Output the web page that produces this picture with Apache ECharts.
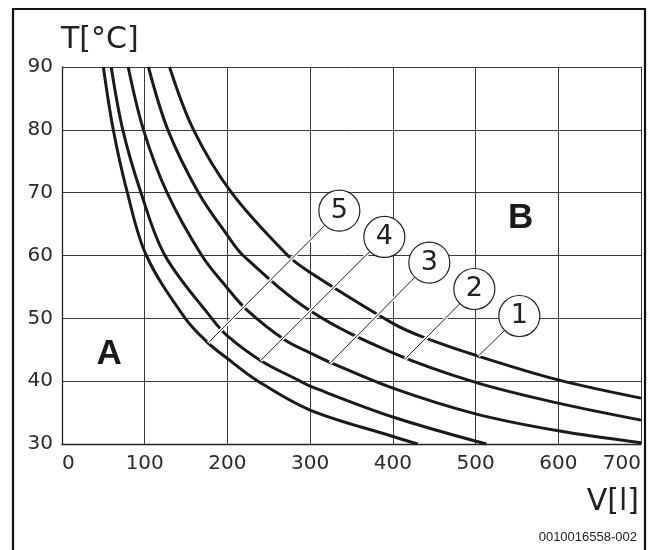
<!DOCTYPE html>
<html><head><meta charset="utf-8">
<script src="https://cdn.jsdelivr.net/npm/echarts@6/dist/echarts.min.js"></script>
<style>html,body{margin:0;padding:0;background:#fff}#c{width:655px;height:550px}</style>
</head><body><div id="c"></div>
<script>
// ---- data ----
const xTickLabels = [0, 100, 200, 300, 400, 500, 600, 700];
const yTickLabels = [30, 40, 50, 60, 70, 80, 90];

const curve1V = [130, 159, 205, 273, 300, 400, 435, 503, 600, 700];
const curve1T = [90, 80, 70, 60, 57.3, 49.2, 47.1, 44.0, 40.2, 37.3];
const curve2V = [104.5, 128, 165, 200, 219, 300, 400, 500, 600, 700];
const curve2T = [90, 80, 70, 63.2, 60, 51.2, 44.5, 39.8, 36.5, 33.8];
const curve3V = [80, 98.5, 127, 169, 200, 223, 269, 300, 324, 400, 500, 600, 700];
const curve3T = [90, 80, 70, 60, 54.8, 51.4, 46.6, 44.5, 43.0, 38.9, 34.8, 32.1, 30.2];
const curve4V = [59.5, 73.5, 95.5, 124.5, 181, 200, 240, 288, 300, 400, 513];
const curve4T = [90, 80, 70, 60, 50, 47.2, 43.3, 40, 39.2, 34.3, 30];
const curve5V = [50, 62, 79, 102, 149, 176.5, 200, 237, 300, 400, 430];
const curve5T = [90, 80, 70, 60, 50, 46.1, 43.6, 40, 35.4, 31.2, 30];

const circleLabels = ['5', '4', '3', '2', '1'];
const circleV = [335.3, 389.7, 444.1, 498.5, 552.9];
const circleT = [67.13, 62.95, 58.86, 54.67, 50.37];
const leaderEndV = [176.9, 240.2, 324.0, 414.7, 503.3];
const leaderEndT = [46.1, 43.3, 42.85, 43.5, 44.0];

const regionLabels = ['A', 'B'];
const regionV = [57.1, 554.5];
const regionT = [44.25, 65.9];

const axisNameY = 'T[°C]';
const axisNameX = 'V[l]';
const figureCode = '0010016558-002';

// ---- build chart ----
const FONT = 'DejaVu Sans';
const zip = (a, b) => a.map((v, i) => [v, b[i]]);
const curves = [
  zip(curve1V, curve1T), zip(curve2V, curve2T), zip(curve3V, curve3T),
  zip(curve4V, curve4T), zip(curve5V, curve5T)
];

const leaderData = circleV.map((v, i) => ({
  coords: [[v, circleT[i]], [leaderEndV[i], leaderEndT[i]]]
}));

const series = [];
curves.forEach((d) => {
  series.push({
    type: 'line', data: d, smooth: 0.35,
    showSymbol: false, symbol: 'none', silent: true, z: 2,
    lineStyle: { color: '#1a1a1a', width: 3 }
  });
});
series.push({
  type: 'lines', coordinateSystem: 'cartesian2d', data: leaderData, silent: true, z: 5,
  lineStyle: { color: '#ffffff', width: 3.5, opacity: 1 }
});
series.push({
  type: 'lines', coordinateSystem: 'cartesian2d', data: leaderData, silent: true, z: 6,
  lineStyle: { color: '#222222', width: 1, opacity: 1 }
});
series.push({
  type: 'scatter', silent: true, z: 10, symbol: 'circle', symbolSize: 41,
  data: circleV.map((v, i) => ({ value: [v, circleT[i]], name: circleLabels[i] })),
  itemStyle: { color: '#ffffff', borderColor: '#222222', borderWidth: 1.2, opacity: 1 },
  label: { show: true, position: 'inside', formatter: p => p.name,
    fontFamily: FONT, fontSize: 27, color: '#222222', textBorderWidth: 0 }
});
series.push({
  type: 'scatter', silent: true, z: 10, symbolSize: 1,
  data: regionV.map((v, i) => ({ value: [v, regionT[i]], name: regionLabels[i] })),
  itemStyle: { color: '#ffffff', opacity: 1 },
  label: { show: true, position: 'inside', formatter: p => p.name,
    fontFamily: 'Liberation Sans', fontWeight: 'bold', fontSize: 35, color: '#1a1a1a',
    textBorderWidth: 0, opacity: 1 }
});

const chart = echarts.init(document.getElementById('c'), null, { renderer: 'canvas' });
chart.setOption({
  animation: false,
  backgroundColor: '#ffffff',
  grid: { left: 62, right: 14, top: 67, bottom: 106, containLabel: false },
  xAxis: {
    type: 'value',
    min: xTickLabels[0], max: xTickLabels[xTickLabels.length - 1],
    interval: xTickLabels[1] - xTickLabels[0],
    axisLine: { show: true, onZero: false, lineStyle: { color: '#222', width: 1.3 } },
    axisTick: { show: false },
    splitLine: { show: true, lineStyle: { color: '#3a3a3a', width: 1 } },
    axisLabel: { fontFamily: FONT, fontSize: 20, color: '#2a2a2a', margin: 10,
      alignMinLabel: 'left', alignMaxLabel: 'right' }
  },
  yAxis: {
    type: 'value',
    min: yTickLabels[0], max: yTickLabels[yTickLabels.length - 1],
    interval: yTickLabels[1] - yTickLabels[0],
    axisLine: { show: true, onZero: false, lineStyle: { color: '#222', width: 1.3 } },
    axisTick: { show: false },
    splitLine: { show: true, lineStyle: { color: '#3a3a3a', width: 1 } },
    axisLabel: { fontFamily: FONT, fontSize: 20, color: '#2a2a2a', margin: 9 }
  },
  graphic: [
    { type: 'rect', silent: true, z: 100,
      shape: { x: 13, y: 9, width: 632, height: 600 },
      style: { fill: 'none', stroke: '#111', lineWidth: 2.2 } },
    { type: 'text', silent: true, x: 61, y: 40,
      style: { text: axisNameY, fontFamily: FONT, fontSize: 30, fill: '#222',
        align: 'left', verticalAlign: 'middle' } },
    { type: 'text', silent: true, x: 639, y: 502,
      style: { text: axisNameX, fontFamily: FONT, fontSize: 30, fill: '#222',
        align: 'right', verticalAlign: 'middle' } },
    { type: 'text', silent: true, x: 637, y: 537,
      style: { text: figureCode, fontFamily: 'Liberation Sans', fontSize: 13, fill: '#222',
        align: 'right', verticalAlign: 'middle' } }
  ],
  series: series
});
</script></body></html>
